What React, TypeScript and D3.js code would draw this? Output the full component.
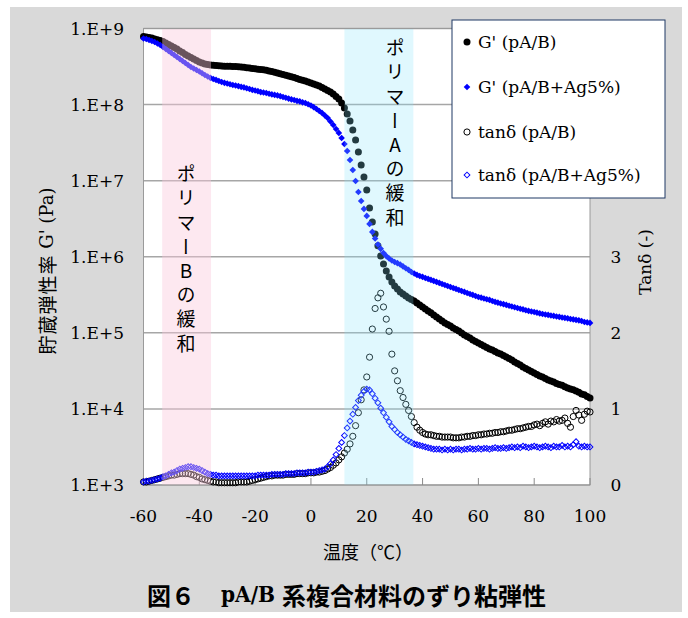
import React from "react";
import * as d3 from "d3";

// ---------- data ----------
const temperatures = [
  -60,-59,-58,-57,-56,-55,-54,-53,-52,-51,-50,-49,-48,-47,-46,-45,-44,-43,-42,-41,
  -40,-39,-38,-37,-36,-35,-34,-33,-32,-31,-30,-29,-28,-27,-26,-25,-24,-23,-22,-21,
  -20,-19,-18,-17,-16,-15,-14,-13,-12,-11,-10,-9,-8,-7,-6,-5,-4,-3,-2,-1,
  0,1,2,3,4,5,6,7,8,9,10,11,12,13,14,15,16,17,18,19,
  20,21,22,23,24,25,26,27,28,29,30,31,32,33,34,35,36,37,38,39,
  40,41,42,43,44,45,46,47,48,49,50,51,52,53,54,55,56,57,58,59,
  60,61,62,63,64,65,66,67,68,69,70,71,72,73,74,75,76,77,78,79,
  80,81,82,83,84,85,86,87,88,89,90,91,92,93,94,95,96,97,98,99,100,
];

// G' (pA/B), Pa
const gPrimePAB = [
  7.85e8,7.73e8,7.62e8,7.50e8,7.28e8,7.10e8,6.95e8,6.75e8,6.45e8,6.16e8,
  5.89e8,5.63e8,5.38e8,5.06e8,4.84e8,4.55e8,4.35e8,4.16e8,3.97e8,3.80e8,
  3.63e8,3.52e8,3.42e8,3.37e8,3.31e8,3.28e8,3.26e8,3.24e8,3.21e8,3.20e8,
  3.19e8,3.18e8,3.17e8,3.16e8,3.15e8,3.12e8,3.10e8,3.06e8,3.03e8,2.99e8,
  2.95e8,2.92e8,2.89e8,2.86e8,2.82e8,2.77e8,2.72e8,2.67e8,2.60e8,2.55e8,
  2.49e8,2.43e8,2.38e8,2.33e8,2.27e8,2.20e8,2.14e8,2.09e8,2.04e8,1.98e8,
  1.92e8,1.87e8,1.81e8,1.75e8,1.68e8,1.60e8,1.53e8,1.46e8,1.38e8,1.28e8,
  1.18e8,1.05e8,9.02e7,7.52e7,6.09e7,4.64e7,3.43e7,2.38e7,1.61e7,1.12e7,
  7.55e6,4.38e6,2.87e6,1.99e6,1.39e6,1.02e6,8.04e5,6.51e5,5.43e5,4.67e5,
  4.13e5,3.78e5,3.45e5,3.24e5,3.05e5,2.87e5,2.75e5,2.62e5,2.47e5,2.33e5,
  2.19e5,2.06e5,1.94e5,1.83e5,1.72e5,1.62e5,1.52e5,1.43e5,1.35e5,1.29e5,
  1.23e5,1.16e5,1.11e5,1.06e5,9.97e4,9.38e4,8.97e4,8.57e4,8.07e4,7.71e4,
  7.37e4,7.04e4,6.73e4,6.43e4,6.14e4,5.96e4,5.70e4,5.44e4,5.28e4,5.05e4,
  4.82e4,4.61e4,4.40e4,4.15e4,3.96e4,3.79e4,3.56e4,3.40e4,3.25e4,3.11e4,
  2.97e4,2.84e4,2.71e4,2.63e4,2.52e4,2.40e4,2.33e4,2.26e4,2.16e4,2.10e4,
  2.04e4,1.95e4,1.89e4,1.83e4,1.78e4,1.72e4,1.65e4,1.57e4,1.53e4,1.46e4,1.39e4,
];

// G' (pA/B+Ag5%), Pa
const gPrimePABAg = [
  7.39e8,7.28e8,7.06e8,6.85e8,6.65e8,6.35e8,6.07e8,5.71e8,5.38e8,5.06e8,
  4.76e8,4.49e8,4.22e8,3.97e8,3.74e8,3.52e8,3.31e8,3.12e8,2.98e8,2.85e8,
  2.72e8,2.58e8,2.45e8,2.34e8,2.24e8,2.17e8,2.11e8,2.04e8,1.98e8,1.93e8,
  1.89e8,1.85e8,1.81e8,1.78e8,1.75e8,1.71e8,1.68e8,1.64e8,1.60e8,1.56e8,
  1.53e8,1.50e8,1.46e8,1.44e8,1.42e8,1.39e8,1.36e8,1.34e8,1.32e8,1.29e8,
  1.26e8,1.23e8,1.20e8,1.17e8,1.15e8,1.12e8,1.10e8,1.07e8,1.05e8,1.01e8,
  9.73e7,9.25e7,8.75e7,8.24e7,7.76e7,7.19e7,6.67e7,6.00e7,5.39e7,4.78e7,
  4.24e7,3.64e7,3.03e7,2.45e7,1.87e7,1.38e7,9.91e6,7.10e6,5.41e6,4.25e6,
  3.44e6,2.70e6,2.12e6,1.74e6,1.45e6,1.27e6,1.12e6,1.02e6,9.50e5,8.94e5,
  8.54e5,8.24e5,7.92e5,7.46e5,7.06e5,6.71e5,6.31e5,6.03e5,5.77e5,5.59e5,
  5.43e5,5.26e5,5.11e5,4.96e5,4.81e5,4.67e5,4.53e5,4.39e5,4.26e5,4.13e5,
  4.01e5,3.89e5,3.78e5,3.66e5,3.55e5,3.45e5,3.34e5,3.24e5,3.15e5,3.05e5,
  2.96e5,2.90e5,2.83e5,2.76e5,2.71e5,2.62e5,2.55e5,2.49e5,2.43e5,2.38e5,
  2.33e5,2.27e5,2.22e5,2.17e5,2.12e5,2.07e5,2.03e5,1.98e5,1.94e5,1.91e5,
  1.88e5,1.84e5,1.80e5,1.77e5,1.74e5,1.72e5,1.69e5,1.67e5,1.64e5,1.62e5,
  1.59e5,1.57e5,1.55e5,1.52e5,1.50e5,1.48e5,1.46e5,1.43e5,1.39e5,1.37e5,1.35e5,
];

// tanδ (pA/B)
const tanDeltaPAB = [
  0.04,0.04,0.05,0.06,0.07,0.08,0.09,0.10,0.11,0.12,
  0.13,0.13,0.14,0.15,0.15,0.15,0.15,0.14,0.13,0.11,
  0.10,0.08,0.07,0.06,0.05,0.04,0.04,0.03,0.03,0.03,
  0.03,0.03,0.03,0.03,0.04,0.04,0.04,0.04,0.05,0.06,
  0.07,0.08,0.09,0.10,0.11,0.12,0.12,0.13,0.13,0.13,
  0.13,0.14,0.14,0.14,0.14,0.15,0.15,0.15,0.15,0.16,
  0.16,0.16,0.17,0.17,0.18,0.19,0.21,0.23,0.26,0.29,
  0.33,0.37,0.42,0.47,0.54,0.64,0.78,0.95,1.12,1.25,
  1.42,1.68,2.05,2.32,2.46,2.52,2.34,2.18,2.02,1.72,
  1.50,1.37,1.24,1.15,1.06,0.98,0.90,0.82,0.76,0.72,
  0.69,0.67,0.66,0.66,0.65,0.64,0.64,0.63,0.63,0.63,
  0.63,0.62,0.62,0.62,0.63,0.63,0.64,0.64,0.65,0.65,
  0.66,0.66,0.67,0.67,0.68,0.68,0.69,0.69,0.70,0.70,
  0.71,0.72,0.72,0.73,0.74,0.74,0.75,0.76,0.77,0.77,
  0.79,0.80,0.78,0.81,0.83,0.80,0.84,0.83,0.86,0.84,
  0.85,0.88,0.81,0.76,0.90,0.98,0.92,0.85,0.93,0.97,0.96,
];

// tanδ (pA/B+Ag5%)
const tanDeltaPABAg = [
  0.04,0.05,0.05,0.06,0.07,0.08,0.09,0.11,0.12,0.14,
  0.16,0.17,0.19,0.21,0.22,0.23,0.24,0.24,0.23,0.22,
  0.21,0.19,0.17,0.15,0.14,0.13,0.13,0.12,0.12,0.12,
  0.12,0.12,0.12,0.12,0.12,0.12,0.12,0.12,0.12,0.12,
  0.12,0.13,0.13,0.13,0.13,0.13,0.14,0.14,0.14,0.14,
  0.14,0.15,0.15,0.15,0.15,0.16,0.16,0.16,0.16,0.17,
  0.17,0.17,0.18,0.19,0.20,0.21,0.24,0.28,0.33,0.40,
  0.48,0.56,0.65,0.75,0.84,0.93,1.02,1.11,1.18,1.23,
  1.26,1.25,1.20,1.14,1.08,1.01,0.95,0.89,0.83,0.77,
  0.73,0.69,0.66,0.63,0.60,0.58,0.56,0.54,0.53,0.52,
  0.51,0.50,0.49,0.48,0.47,0.47,0.47,0.46,0.47,0.46,
  0.47,0.46,0.47,0.47,0.46,0.47,0.47,0.48,0.47,0.47,
  0.48,0.47,0.48,0.48,0.47,0.48,0.49,0.48,0.48,0.49,
  0.48,0.49,0.50,0.49,0.50,0.49,0.51,0.50,0.49,0.50,
  0.51,0.50,0.49,0.50,0.51,0.50,0.49,0.51,0.50,0.50,
  0.52,0.50,0.51,0.50,0.53,0.57,0.51,0.50,0.51,0.50,0.50,
];

const xTicks = [-60, -40, -20, 0, 20, 40, 60, 80, 100];
const yLeftTicks = [1e3, 1e4, 1e5, 1e6, 1e7, 1e8, 1e9];
const yLeftTickLabels = ["1.E+3", "1.E+4", "1.E+5", "1.E+6", "1.E+7", "1.E+8", "1.E+9"];
const yRightDomain = [0, 6];
// labels 4–6 sit behind the legend in the reference, so only 0–3 are visible
const yRightTicks = [0, 1, 2, 3];
const legendLabels = ["G' (pA/B)", "G' (pA/B+Ag5%)", "tanδ (pA/B)", "tanδ (pA/B+Ag5%)"];
const bandB = [-53.3, -35.8];
const bandA = [12.0, 36.7];
const bandBText = "ポリマーBの緩和";
const bandAText = "ポリマーAの緩和";

// ---------- layout ----------
const PL = 143.5, PR = 590, PT = 28.5, PB = 485;
const SERIF = "'DejaVu Serif', serif";
const CJK = "'Noto Sans CJK JP', 'Noto Sans', sans-serif";

const x = d3.scaleLinear().domain([-60, 100]).range([PL, PR]);
const yL = d3.scaleLog().domain([1e3, 1e9]).range([PB, PT]);
const yR = d3.scaleLinear().domain(yRightDomain).range([PB, PT]);

const diamondFilled = d3.symbol(d3.symbolSquare, 22)()!;
const diamondOpen = d3.symbol(d3.symbolSquare, 17)()!;

function Marker({ kind, cx, cy }: { kind: number; cx: number; cy: number }) {
  if (kind === 0) return <circle cx={cx} cy={cy} r={3.5} fill="#000" />;
  if (kind === 1)
    return <path d={diamondFilled} transform={`translate(${cx},${cy}) rotate(45)`} fill="#0000ff" />;
  if (kind === 2)
    return <circle cx={cx} cy={cy} r={3.1} fill="none" stroke="#000" strokeWidth={1} />;
  return (
    <path d={diamondOpen} transform={`translate(${cx},${cy}) rotate(45)`} fill="none" stroke="#0000ff" strokeWidth={1} />
  );
}

function VerticalText({ text, cx, yTop }: { text: string; cx: number; yTop: number }) {
  return (
    <text
      x={cx}
      y={yTop}
      fontSize={19}
      fontFamily={CJK}
      style={{ writingMode: "vertical-rl", textOrientation: "upright", letterSpacing: "5.2px" } as any}
    >
      {text}
    </text>
  );
}

export default function App() {
  const seriesList = [
    { kind: 0, vals: gPrimePAB, y: yL },
    { kind: 1, vals: gPrimePABAg, y: yL },
    { kind: 2, vals: tanDeltaPAB, y: yR },
    { kind: 3, vals: tanDeltaPABAg, y: yR },
  ];
  const legendY = [42, 87, 132, 175];

  return (
    <svg width={688} height={618} style={{ position: "absolute", left: 0, top: 0 }}>
      <rect x={0} y={0} width={688} height={618} fill="#fff" />
      <rect x={10} y={7} width={672} height={605} fill="#d9d9d9" />
      <rect x={PL} y={PT} width={PR - PL} height={PB - PT} fill="#fff" />

      {/* grid */}
      {yLeftTicks.map((t) => (
        <line key={t} x1={PL} x2={PR} y1={yL(t)} y2={yL(t)} stroke="#a6a6a6" strokeWidth={1.5} />
      ))}
      <rect x={PL} y={PT} width={PR - PL} height={PB - PT} fill="none" stroke="#9a9a9a" strokeWidth={1} />
      {xTicks.map((t) => (
        <line key={t} x1={x(t)} x2={x(t)} y1={PB} y2={PB - 7} stroke="#8a8a8a" strokeWidth={1} />
      ))}

      {/* series */}
      {seriesList.map((s, si) => (
        <g key={si}>
          {temperatures.map((t, i) => (
            <Marker key={i} kind={s.kind} cx={x(t)} cy={s.y(s.vals[i])} />
          ))}
        </g>
      ))}

      {/* relaxation bands (semi-transparent overlays) */}
      <rect x={x(bandB[0])} y={PT + 0.5} width={x(bandB[1]) - x(bandB[0])} height={PB - PT - 1} fill="rgb(250,200,220)" opacity={0.42} />
      <rect x={x(bandA[0])} y={PT + 0.5} width={x(bandA[1]) - x(bandA[0])} height={PB - PT - 1} fill="rgb(135,228,250)" opacity={0.26} />

      <VerticalText text={bandBText} cx={186} yTop={164.5} />
      <VerticalText text={bandAText} cx={395} yTop={38.5} />

      {/* left tick labels */}
      {yLeftTicks.map((t, i) => (
        <text key={t} x={124} y={yL(t)} textAnchor="end" dominantBaseline="central" fontFamily={SERIF} fontSize={17}>
          {yLeftTickLabels[i]}
        </text>
      ))}
      {/* right tick labels */}
      {yRightTicks.map((t) => (
        <text key={t} x={616} y={yR(t)} textAnchor="middle" dominantBaseline="central" fontFamily={SERIF} fontSize={17}>
          {t}
        </text>
      ))}
      {/* x tick labels */}
      {xTicks.map((t) => (
        <text key={t} x={x(t)} y={516} textAnchor="middle" dominantBaseline="central" fontFamily={SERIF} fontSize={17}>
          {t}
        </text>
      ))}

      {/* axis titles */}
      <text transform="translate(46,271) rotate(-90)" textAnchor="middle" dominantBaseline="central" fontSize={19}>
        <tspan fontFamily={CJK} letterSpacing="1px">貯蔵弾性率</tspan>
        <tspan fontFamily={SERIF} fontSize={18}> G' (Pa)</tspan>
      </text>
      <text transform="translate(645,262) rotate(-90)" textAnchor="middle" dominantBaseline="central" fontFamily={SERIF} fontSize={17}>
        Tanδ (-)
      </text>
      <text x={368} y={551} textAnchor="middle" dominantBaseline="central" fontFamily={CJK} fontSize={18}>
        温度（℃）
      </text>

      {/* legend */}
      <rect x={452} y={20} width={213} height={178} fill="#fff" stroke="#1f3864" strokeWidth={1} />
      {legendLabels.map((lab, i) => (
        <g key={i}>
          <Marker kind={i} cx={467} cy={legendY[i]} />
          <text x={478} y={legendY[i]} dominantBaseline="central" fontFamily={SERIF} fontSize={17}>
            {lab}
          </text>
        </g>
      ))}

      {/* caption */}
      <text x={147} y={594} dominantBaseline="central" fontWeight="bold" fontSize={24} fontFamily={CJK}>
        図６
      </text>
      <text x={221} y={594} dominantBaseline="central" fontWeight="bold" fontSize={22} fontFamily={SERIF}
        textLength={54} lengthAdjust="spacingAndGlyphs">
        pA/B
      </text>
      <text x={282} y={594} dominantBaseline="central" fontWeight="bold" fontSize={24} fontFamily={CJK}>
        系複合材料のずり粘弾性
      </text>
    </svg>
  );
}
